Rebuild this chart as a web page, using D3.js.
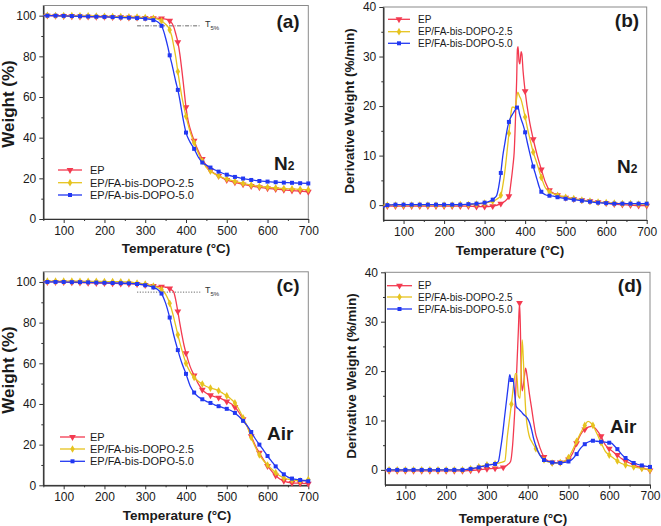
<!DOCTYPE html>
<html><head><meta charset="utf-8">
<script src="https://cdn.jsdelivr.net/npm/d3@7"></script>
<style>body{margin:0;background:#fff;} svg{display:block;font-family:"Liberation Sans",Arial,Helvetica,sans-serif;}</style>
</head><body><svg id="c" width="661" height="526"></svg>
<script>
// ---------- data ----------
const seriesNames = ["EP", "EP/FA-bis-DOPO-2.5", "EP/FA-bis-DOPO-5.0"];
const xTicks = [100, 200, 300, 400, 500, 600, 700];
const xMinor = [50, 150, 250, 350, 450, 550, 650];
const tgaTicks = [0, 20, 40, 60, 80, 100];
const tgaMinor = [10, 30, 50, 70, 90];
const dtgTicks = [0, 10, 20, 30, 40];
const dtgMinor = [5, 15, 25, 35];

// (a) TGA, N2  [temperature °C, weight %]
const tgaN2_EP = [[50,100],[60,100],[80,99.9],[100,99.8],[120,99.7],[140,99.6],[160,99.5],[180,99.4],[200,99.4],[220,99.3],[240,99.2],[260,99.1],[280,99.0],[300,98.9],[320,98.8],[340,98.6],[350,98.3],[360,97.5],[370,94.5],[375,91],[380,87],[385,81],[390,73],[395,64],[400,55],[405,48.5],[410,44.5],[420,38.5],[430,33.5],[440,29.5],[450,26.3],[460,23.8],[470,22.4],[480,21.2],[490,20.1],[500,19.2],[520,18.0],[540,17.0],[560,16.2],[580,15.6],[600,15.1],[620,14.7],[640,14.3],[660,14.0],[680,13.7],[700,13.4]];
const tgaN2_25 = [[50,100.2],[60,100.2],[80,100.1],[100,100.0],[120,100.0],[140,99.9],[160,99.9],[180,99.8],[200,99.7],[220,99.6],[240,99.5],[260,99.4],[280,99.3],[300,99.1],[320,98.7],[330,98.3],[340,97.4],[350,95.8],[360,93],[365,90],[370,85],[375,79.5],[380,72.5],[385,66],[390,60],[395,55],[400,50.5],[405,46.5],[410,43],[420,37.5],[430,32.5],[440,28.5],[450,25.3],[460,23.6],[470,22.2],[480,21.2],[490,20.4],[500,19.7],[520,18.5],[540,17.5],[560,16.7],[580,16.0],[600,15.6],[620,15.3],[640,15.0],[660,14.8],[680,14.6],[700,14.4]];
const tgaN2_50 = [[50,100],[60,100],[80,100],[100,99.9],[120,99.8],[140,99.7],[160,99.6],[180,99.5],[200,99.4],[220,99.3],[240,99.1],[260,99.0],[280,98.8],[300,98.5],[320,97.8],[330,97],[340,95],[345,92.5],[350,89],[355,85],[360,80.5],[365,76.5],[370,72],[375,67.5],[380,63.5],[385,58.5],[390,52.5],[395,47],[400,42.5],[405,39.8],[410,37.8],[420,34.5],[430,30.5],[440,27.8],[450,26.5],[460,25.3],[470,24.2],[480,23.3],[490,22.5],[500,21.8],[520,20.7],[540,19.9],[560,19.2],[580,18.7],[600,18.4],[620,18.1],[640,17.9],[660,17.8],[680,17.6],[700,17.5]];

// (b) DTG, N2  [temperature °C, derivative weight %/min]
const dtgN2_EP = [[50,-0.3],[60,-0.2],[80,-0.2],[100,-0.2],[120,-0.2],[140,-0.2],[160,-0.2],[180,-0.2],[200,-0.2],[220,-0.2],[240,-0.2],[260,-0.2],[280,-0.3],[300,-0.3],[320,-0.2],[340,0.3],[350,0.8],[360,1.8],[365,4.5],[370,8],[373,10.7],[376,17],[379,25],[381,31.5],[382.5,32],[385,29],[387,28.5],[390,31],[392,30.5],[395,27],[400,23],[410,17.3],[420,13.3],[430,10],[440,7.2],[450,4.6],[460,3.0],[470,2.4],[480,2.0],[500,1.5],[520,1.2],[540,1.0],[560,0.8],[580,0.6],[600,0.4],[620,0.2],[640,0.1],[660,0.0],[680,-0.1],[700,-0.1]];
const dtgN2_25 = [[50,0],[60,0],[80,0],[100,0],[120,0],[140,0],[160,0],[180,0],[200,0],[220,0],[240,0.1],[260,0.1],[280,0.2],[300,0.4],[320,0.8],[330,1.2],[340,2.0],[345,4],[350,6.8],[355,10.5],[360,14.5],[365,18.5],[368,19.8],[372,19.8],[375,19.5],[378,21],[382,22.8],[386,22],[390,21.3],[395,19.7],[400,17.8],[405,15.8],[410,14],[420,10.7],[430,8.2],[440,5.6],[450,3.5],[460,2.7],[470,2.3],[480,2.0],[500,1.6],[520,1.3],[540,1.0],[560,0.8],[580,0.6],[600,0.5],[620,0.4],[640,0.3],[660,0.3],[680,0.2],[700,0.2]];
const dtgN2_50 = [[50,-0.5],[60,0],[80,0.1],[100,0.1],[120,0.1],[140,0.1],[160,0.1],[180,0.1],[200,0.1],[220,0.1],[240,0.1],[260,0.2],[280,0.3],[300,0.5],[310,0.7],[320,1.1],[325,1.5],[330,2.0],[335,3.8],[340,6.5],[345,10],[350,12.5],[355,15],[360,16.8],[365,17.8],[370,18.5],[375,19.2],[380,19.7],[383,19.6],[386,18.5],[390,17.4],[395,16.2],[400,14.7],[405,12.8],[410,11],[415,9.3],[420,7.8],[425,6.4],[430,5.0],[435,3.6],[440,2.7],[450,2.1],[460,1.9],[470,1.8],[480,1.6],[500,1.3],[520,1.1],[540,0.9],[560,0.7],[580,0.5],[600,0.4],[620,0.3],[640,0.3],[660,0.3],[680,0.3],[700,0.3]];

// (c) TGA, Air
const tgaAir_EP = [[50,100],[60,100],[80,100],[100,99.9],[120,99.8],[140,99.7],[160,99.6],[180,99.5],[200,99.4],[220,99.3],[240,99.2],[260,99.1],[280,99.0],[300,98.5],[320,98.0],[340,97.7],[350,97.4],[360,96.8],[365,96],[370,95],[375,91],[380,85.5],[385,79.5],[390,74],[395,69],[400,65],[410,58.5],[420,54],[430,50],[440,47],[450,45.3],[460,44.3],[470,43.6],[480,43.1],[490,42.3],[500,41.2],[510,40.2],[520,38.5],[530,35.8],[540,32.5],[550,29],[560,24.2],[570,19.6],[580,16],[590,12.6],[600,9.5],[610,7],[620,4.8],[630,3.1],[640,2.2],[650,1.5],[660,1.2],[680,1.0],[700,0.8]];
const tgaAir_25 = [[50,100.4],[60,100.4],[80,100.4],[100,100.4],[120,100.4],[140,100.3],[160,100.3],[180,100.3],[200,100.2],[220,100.2],[240,100.1],[260,100],[280,99.5],[300,99],[320,98],[330,97.3],[340,96.3],[350,94],[360,89.5],[370,82.5],[380,74],[390,66.5],[400,60],[410,55.8],[420,53],[430,51.2],[440,49.8],[450,48.6],[460,47.8],[470,47.3],[480,46.5],[490,45.3],[500,44],[510,42.5],[520,40.5],[530,37.3],[540,33.2],[550,29],[560,23.5],[570,18.8],[580,15],[590,12.2],[600,10],[610,8],[620,6.2],[630,4.7],[640,3.6],[650,3.0],[660,2.6],[680,2.2],[700,2.8]];
const tgaAir_50 = [[50,100],[60,100],[80,100],[100,100],[120,99.9],[140,99.9],[160,99.8],[180,99.7],[200,99.6],[220,99.5],[240,99.4],[260,99.3],[280,99.0],[300,98.4],[320,97.3],[330,96.4],[340,94.3],[350,89.6],[360,82.5],[370,73.8],[380,66.5],[390,60],[400,54.8],[410,49],[420,45.6],[430,43.5],[440,42.3],[450,41.3],[460,40.5],[470,39.6],[480,38.9],[490,38.2],[500,37.6],[510,36.8],[520,35.6],[530,33.8],[540,31.7],[550,29.3],[560,26.2],[570,22.9],[580,20],[590,17.3],[600,14.4],[610,11.8],[620,9.3],[630,7.2],[640,5.4],[650,4.0],[660,3.3],[680,2.6],[700,2.0]];

// (d) DTG, Air
const dtgAir_EP = [[50,-0.2],[60,-0.2],[80,-0.2],[100,-0.2],[120,-0.2],[140,-0.2],[160,-0.2],[180,-0.2],[200,-0.2],[220,-0.2],[240,-0.2],[260,-0.1],[280,0],[300,0.2],[320,0.3],[340,0.5],[350,1.0],[358,1.7],[363,5],[368,11.5],[373,20],[377,28],[380,33.8],[382,29],[384,20],[386.5,16],[389,17],[392,19],[395,20.6],[399,18.7],[404,15.5],[409,12.8],[414,10],[419,7.5],[425,5.8],[430,4.5],[440,2.6],[450,1.8],[460,1.5],[470,1.4],[480,1.5],[490,1.7],[500,2.1],[510,3.3],[520,5.4],[530,7.2],[540,8.2],[550,8.7],[557,8.8],[565,8.5],[570,8.0],[580,6.8],[590,5.1],[600,4.3],[610,3.6],[620,3.0],[630,2.3],[640,1.8],[650,1.4],[660,1.0],[680,0.4],[700,-0.1]];
const dtgAir_25 = [[50,0],[60,0],[80,0],[100,0],[120,0],[140,0],[160,0],[180,0],[200,0],[220,0],[240,0],[260,0.2],[280,0.6],[300,1.0],[320,1.2],[335,1.5],[344,1.8],[350,6.7],[355,10],[360,13.3],[366,17.5],[370,19.5],[373,19.5],[377,15],[381,14.5],[384,20],[386.5,26.3],[389,23],[392,17],[396,11],[401,7.9],[405,6.5],[410,5.7],[420,4.3],[430,3],[440,2],[450,1.6],[460,1.4],[470,1.4],[480,1.5],[490,1.8],[500,2.5],[510,4],[520,5.8],[530,7.5],[540,9],[548,9.8],[555,9.5],[560,9],[570,7.3],[580,5.5],[590,3.8],[600,3.0],[610,2.4],[620,1.8],[630,1.3],[640,1.0],[660,0.6],[680,0.3],[700,0]];
const dtgAir_50 = [[50,0],[60,0],[80,0],[100,0],[120,0],[140,0],[160,0],[180,0],[200,0],[220,0],[240,0],[260,0.2],[280,0.5],[300,0.9],[320,1.2],[328,1.7],[333,4],[338,6.9],[343,10.5],[348,14],[352,16.8],[356,19.3],[360,18.2],[364,18.4],[368,15.5],[372,12.8],[378,12.3],[384,11.8],[390,11.2],[399,10.5],[405,9.5],[410,8],[414,6.5],[419,5.1],[424,4],[430,3],[440,2],[450,1.7],[460,1.5],[470,1.4],[480,1.4],[490,1.5],[500,1.7],[510,2.2],[520,3.2],[530,4.4],[540,5.2],[550,5.7],[560,5.9],[570,5.8],[580,5.7],[590,5.6],[600,5.5],[606,5.4],[610,5.1],[620,4.2],[630,3.2],[640,2.4],[650,1.9],[660,1.4],[680,0.9],[700,0.6]];

// ---------- style / layout ----------
const colors = ["#f33a50", "#e6c31e", "#2238f2"];
const symbols = [d3.symbolTriangle, d3.symbolDiamond, d3.symbolSquare];
const symSize = [20, 17, 16];
const symRot = [180, 0, 0];

const panels = [
  {id:"(a)", x0:43.3, x1:308.3, yb:219, yt:5.5, yd:[0,105], yt_:tgaTicks, ym:tgaMinor,
   data:[tgaN2_EP, tgaN2_25, tgaN2_50], ytitle:"Weight (%)", ytFont:17, ytx:14, yty:104,
   xtx:176, xty:253, lab:[288,28], gas:"N", gasSub:"2", gasPos:[274,170], legend:{x1:58,x2:82,tx:90,y:[170,182.7,195],fs:11},
   t5:{y:95, xa:280, xb:435, dash:"4,1.5,1,1.5", tx:205, ty:27}},
  {id:"(b)", x0:383.3, x1:646.7, yb:220, yt:7, yd:[-3,40], yt_:dtgTicks, ym:dtgMinor,
   data:[dtgN2_EP, dtgN2_25, dtgN2_50], ytitle:"Derivative Weight (%/min)", ytFont:13.5, ytx:354, yty:111,
   xtx:510, xty:255, lab:[627,27], gas:"N", gasSub:"2", gasPos:[617,173], legend:{x1:388,x2:410,tx:418,y:[19.3,31.7,43.3],fs:10}},
  {id:"(c)", x0:43.3, x1:308.3, yb:485.3, yt:271.8, yd:[0,105], yt_:tgaTicks, ym:tgaMinor,
   data:[tgaAir_EP, tgaAir_25, tgaAir_50], ytitle:"Weight (%)", ytFont:17, ytx:14, yty:370,
   xtx:177, xty:520, lab:[288,292], gas:"Air", gasSub:"", gasPos:[267,440], legend:{x1:60,x2:85,tx:90,y:[437,449,461.3],fs:11},
   t5:{y:95, xa:280, xb:435, dash:"1.2,1.5", tx:205, ty:293}},
  {id:"(d)", x0:385, x1:650, yb:484.7, yt:272.3, yd:[-3,40], yt_:dtgTicks, ym:dtgMinor,
   data:[dtgAir_EP, dtgAir_25, dtgAir_50], ytitle:"Derivative Weight (%/min)", ytFont:13.5, ytx:356, yty:376,
   xtx:513, xty:523, lab:[630,292], gas:"Air", gasSub:"", gasPos:[610,433], legend:{x1:387,x2:412,tx:418,y:[285.7,297,309],fs:10}}
];

const svg = d3.select("#c");

panels.forEach(p => {
  const x = d3.scaleLinear().domain([50, 700]).range([p.x0, p.x1]);
  const y = d3.scaleLinear().domain(p.yd).range([p.yb, p.yt]);
  const g = svg.append("g");

  // frame
  g.append("rect").attr("x", p.x0).attr("y", p.yt).attr("width", p.x1 - p.x0).attr("height", p.yb - p.yt)
    .attr("fill", "none").attr("stroke", "#8a8a8a").attr("stroke-width", 1);

  // axes
  const xa = g.append("g").attr("transform", `translate(0,${p.yb})`)
    .call(d3.axisBottom(x).tickValues(xTicks).tickSize(4).tickPadding(3).tickSizeOuter(0));
  const xm = g.append("g").attr("transform", `translate(0,${p.yb})`)
    .call(d3.axisBottom(x).tickValues(xMinor).tickSize(2).tickFormat("").tickSizeOuter(0));
  const ya = g.append("g").attr("transform", `translate(${p.x0},0)`)
    .call(d3.axisLeft(y).tickValues(p.yt_).tickSize(4).tickPadding(3).tickSizeOuter(0));
  const ym = g.append("g").attr("transform", `translate(${p.x0},0)`)
    .call(d3.axisLeft(y).tickValues(p.ym).tickSize(2).tickFormat("").tickSizeOuter(0));
  [xa, xm, ya, ym].forEach(a => {
    a.select(".domain").attr("stroke", "#333").attr("stroke-width", 1);
    a.selectAll(".tick line").attr("stroke", "#333");
    a.selectAll("text").attr("font-size", 12).attr("fill", "#1a1a1a")
      .attr("font-family", '"Liberation Sans",Arial,sans-serif');
  });

  // T5% annotation
  if (p.t5) {
    g.append("line").attr("x1", x(p.t5.xa)).attr("x2", x(p.t5.xb)).attr("y1", y(p.t5.y)).attr("y2", y(p.t5.y))
      .attr("stroke", "#444").attr("stroke-width", 0.8).attr("stroke-dasharray", p.t5.dash);
    const t = g.append("text").attr("x", p.t5.tx).attr("y", p.t5.ty).attr("font-size", 9).attr("fill", "#333");
    t.append("tspan").text("T");
    t.append("tspan").attr("font-size", 6).attr("dy", 3).text("5%");
  }

  // series
  const line = d3.line().x(d => x(d[0])).y(d => y(d[1])).curve(d3.curveMonotoneX);
  p.data.forEach((ser, i) => {
    g.append("path").datum(ser).attr("d", line).attr("fill", "none")
      .attr("stroke", colors[i]).attr("stroke-width", 1.3);
    g.selectAll(null).data(ser.filter(d => d[0] % 20 === 0)).enter().append("path")
      .attr("d", d3.symbol().type(symbols[i]).size(symSize[i]))
      .attr("transform", d => `translate(${x(d[0])},${y(d[1])}) rotate(${symRot[i]})`)
      .attr("fill", colors[i]);
  });

  // legend
  const L = p.legend;
  seriesNames.forEach((nm, i) => {
    g.append("line").attr("x1", L.x1).attr("x2", L.x2).attr("y1", L.y[i]).attr("y2", L.y[i])
      .attr("stroke", colors[i]).attr("stroke-width", 1.3);
    g.append("path").attr("d", d3.symbol().type(symbols[i]).size(symSize[i]))
      .attr("transform", `translate(${(L.x1 + L.x2) / 2},${L.y[i]}) rotate(${symRot[i]})`).attr("fill", colors[i]);
    g.append("text").attr("x", L.tx).attr("y", L.y[i]).attr("dy", "0.36em").attr("font-size", L.fs)
      .attr("fill", "#1a1a1a").text(nm);
  });

  // titles
  g.append("text").attr("x", p.xtx).attr("y", p.xty).attr("text-anchor", "middle")
    .attr("font-size", 13.5).attr("font-weight", "bold").attr("fill", "#1a1a1a").text("Temperature (°C)");
  g.append("text").attr("transform", `translate(${p.ytx},${p.yty}) rotate(-90)`).attr("text-anchor", "middle")
    .attr("font-size", p.ytFont).attr("font-weight", "bold").attr("fill", "#1a1a1a").text(p.ytitle);

  // panel label
  g.append("text").attr("x", p.lab[0]).attr("y", p.lab[1]).attr("text-anchor", "middle")
    .attr("font-size", 19).attr("font-weight", "bold").attr("fill", "#1a1a1a").text(p.id);

  // gas label
  const gt = g.append("text").attr("x", p.gasPos[0]).attr("y", p.gasPos[1])
    .attr("font-size", 19).attr("font-weight", "bold").attr("fill", "#1a1a1a");
  gt.append("tspan").text(p.gas);
  if (p.gasSub) gt.append("tspan").attr("font-size", 12).attr("dy", 0).text(p.gasSub);
});
</script>
</body></html>
